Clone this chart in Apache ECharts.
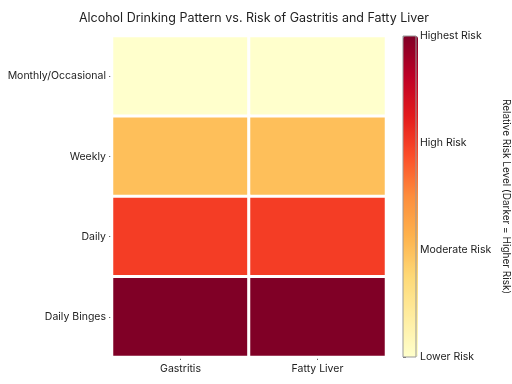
<!DOCTYPE html>
<html><head><meta charset="utf-8">
<script src="https://cdn.jsdelivr.net/npm/echarts@6/dist/echarts.min.js"></script>
<style>html,body{margin:0;padding:0;background:#fff}#c{width:512px;height:384px}</style>
</head><body><div id="c"></div>
<script>
const conditions = ['Gastritis', 'Fatty Liver'];
const patterns = ['Monthly/Occasional', 'Weekly', 'Daily', 'Daily Binges'];
const gastritisRisk = [0, 1, 2, 3];
const fattyLiverRisk = [0, 1, 2, 3];
const riskTickLabels = ['Lower Risk', 'Moderate Risk', 'High Risk', 'Highest Risk'];

const FONT = 'Inter, "Noto Sans", sans-serif';
const data = [];
patterns.forEach((p, i) => {
  data.push([0, i, gastritisRisk[i]]);
  data.push([1, i, fattyLiverRisk[i]]);
});
const ylorrd = ['#ffffcc','#ffeda0','#fed976','#feb24c','#fd8d3c','#fc4e2a','#e31a1c','#bd0026','#800026'];

const chart = echarts.init(document.getElementById('c'));
chart.setOption({
  animation: false,
  title: {
    text: 'Alcohol Drinking Pattern vs. Risk of Gastritis and Fatty Liver',
    left: 249, top: 7, textAlign: 'center',
    textStyle: {fontFamily: FONT, fontSize: 12.5, fontWeight: 'normal', color: '#222'}
  },
  grid: [
    {left: 112, top: 36, width: 274, height: 321, show: true, borderColor: '#888', borderWidth: 1, backgroundColor: 'transparent'},
    {left: 403, top: 36, width: 15, height: 321, show: true, borderColor: '#999', borderWidth: 1, backgroundColor: 'transparent', z: 20}
  ],
  xAxis: [
    {type: 'category', gridIndex: 0, data: conditions,
     axisLine: {show: false},
     axisTick: {show: true, alignWithLabel: true, length: 3, lineStyle: {color: '#666'}},
     axisLabel: {fontFamily: FONT, fontSize: 10.5, color: '#222', margin: 6},
     splitLine: {show: false}},
    {type: 'value', gridIndex: 1, show: false, min: 0, max: 1}
  ],
  yAxis: [
    {type: 'category', gridIndex: 0, data: patterns, inverse: true,
     axisLine: {show: false},
     axisTick: {show: true, alignWithLabel: true, length: 3, lineStyle: {color: '#666'}},
     axisLabel: {fontFamily: FONT, fontSize: 10.5, color: '#222', margin: 6},
     splitLine: {show: false}},
    {type: 'value', gridIndex: 1, position: 'right', min: 0, max: 3, interval: 1,
     axisLine: {show: false},
     axisTick: {show: true, length: 3, lineStyle: {color: '#666'}},
     axisLabel: {fontFamily: FONT, fontSize: 10.5, color: '#222', margin: 4,
       formatter: v => riskTickLabels[Math.round(v)]},
     splitLine: {show: false},
     name: 'Relative Risk Level (Darker = Higher Risk)',
     nameLocation: 'middle', nameRotate: -90, nameGap: 85,
     nameTextStyle: {fontFamily: FONT, fontSize: 10, color: '#222'}}
  ],
  visualMap: {
    type: 'continuous', min: 0, max: 3, calculable: false, seriesIndex: 0,
    orient: 'vertical', left: 403, top: 36, itemWidth: 15, itemHeight: 321,
    padding: 0, text: null, showLabel: false, hoverLink: false,
    inRange: {color: ylorrd}
  },
  series: [
    {type: 'heatmap', xAxisIndex: 0, yAxisIndex: 0, data: data,
     itemStyle: {borderColor: '#fff', borderWidth: 3}},
    {type: 'line', xAxisIndex: 1, yAxisIndex: 1, data: [], silent: true}
  ]
});
</script></body></html>
